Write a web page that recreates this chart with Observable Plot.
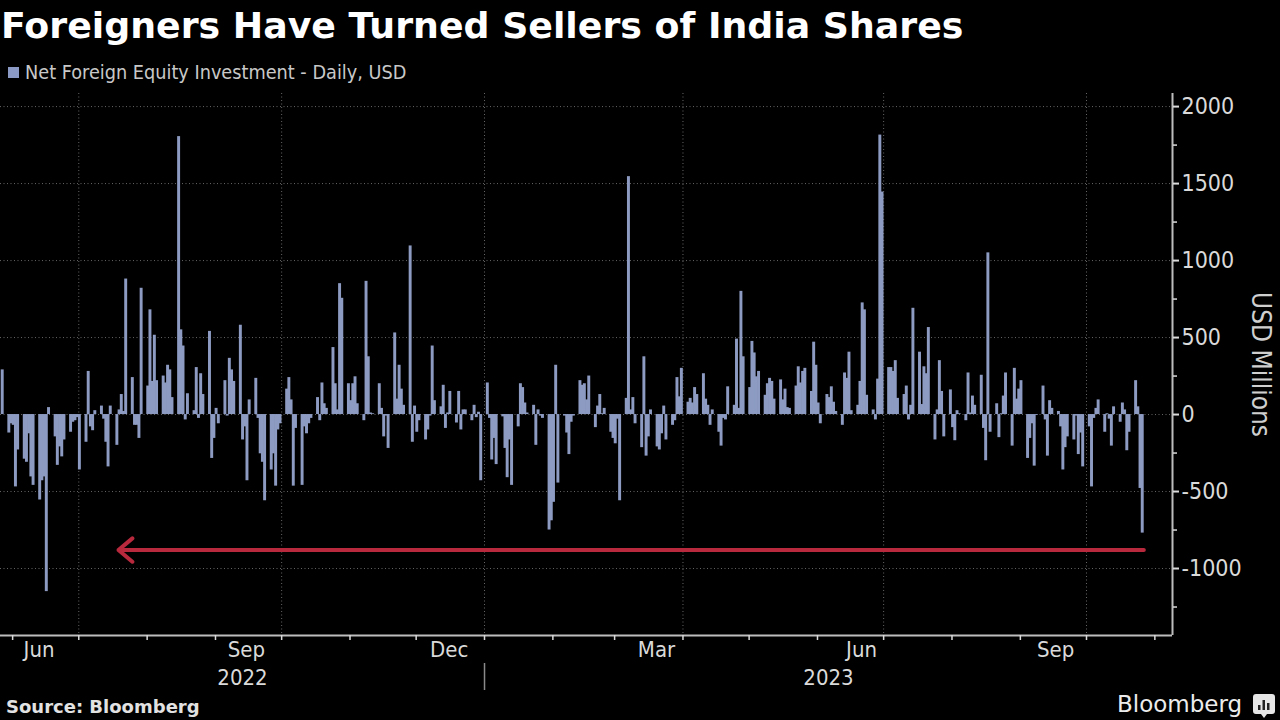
<!DOCTYPE html>
<html>
<head>
<meta charset="utf-8">
<script src="https://cdn.jsdelivr.net/npm/d3@7"></script>
<script src="https://cdn.jsdelivr.net/npm/@observablehq/plot@0.6"></script>
<style>
  html, body { margin: 0; padding: 0; background: #000; }
  #wrap { position: relative; width: 1280px; height: 720px; background: #000; overflow: hidden; }
  #title { position: absolute; left: 1px; top: 8px; font: bold 36.3px "DejaVu Sans", sans-serif; color: #fff; line-height: 36.3px; white-space: nowrap; }
  #legend { position: absolute; left: 8px; top: 63px; font-family: "DejaVu Sans Condensed", "DejaVu Sans", sans-serif; font-stretch: condensed; font-size: 19.7px; color: #c8c8c8; line-height: 19.7px; display: flex; align-items: center; white-space: nowrap; }
  #legend .sw { width: 11px; height: 11px; background: #8a9ac4; margin-right: 6px; }
  #chart { position: absolute; left: 0; top: 90px; }
  #source { position: absolute; left: 6px; top: 698px; font: bold 18px "DejaVu Sans", sans-serif; color: #e2e2e2; line-height: 18px; white-space: nowrap; }
  #brand { position: absolute; left: 1117px; top: 693px; font-family: "DejaVu Sans", sans-serif; font-size: 23px; color: #ececec; line-height: 23px; white-space: nowrap; }
  #icon { position: absolute; left: 1253px; top: 694px; }
</style>
</head>
<body>
<div id="wrap">
  <div id="title">Foreigners Have Turned Sellers of India Shares</div>
  <div id="legend"><span class="sw"></span><span>Net Foreign Equity Investment - Daily, USD</span></div>
  <div id="chart"></div>
  <div id="source">Source: Bloomberg</div>
  <div id="brand">Bloomberg</div>
  <svg id="icon" width="22" height="24" viewBox="0 0 22 24">
    <path d="M3 0h16a3 3 0 0 1 3 3v14a3 3 0 0 1-3 3h-5l-3 4-3-4H3a3 3 0 0 1-3-3V3a3 3 0 0 1 3-3z" fill="#e6e6e6"/>
    <rect x="5" y="11" width="2.5" height="5" fill="#222"/>
    <rect x="9.5" y="6" width="2.5" height="10" fill="#222"/>
    <rect x="14" y="9" width="2.5" height="7" fill="#222"/>
  </svg>
</div>
<script>
// ---- Data: net foreign equity investment, daily, USD millions ----
const firstDay = "2022-05-27";
const lastDay = "2023-10-26";

const flows2022Q2 = [290, -120, -60, -70, -470, -230, -290, -310, -125, -405, -460, -555, -430, -405, -1150, 45, -145, -330, -210, -275, -165, -115, -50, -40, -20];

const flows2022Q3 = [-360, -180, 280, -80, -105, 25, 55, -30, -180, -340,
  55, -200, 30, 130, 20, 880, 240, -70, -70, -155,
  820, 185, 680, 215, 515, 220, 250, 205, 320, 290,
  110, 1805, 550, 445, -35, 135, 25, 305, -25, 265,
  130, 540, -285, -155, 40, -60, 220, -10, 365, 290,
  215, 580, -165, -80, -430, 95, 235, -25, -255, -310,
  -560, -360, -255, -465, -100, -60];

const flows2022Q4 = [165, 240, 95, -465, -90, -460, -80, -125, -60, -25,
  110, -40, 205, 70, 40, 435, 200, 30, 850, 755,
  200, 90, 200, 245, 70, -40, 865, 375, 10, 5,
  200, 40, -145, -10, -220, 530, 100, 320, 165, 60,
  1095, -180, 55, -115, -40, -165, -100, -10, 445, 90,
  50, 190, -90, 10, 150, -55, 150, -100, 30, 30,
  -40, 60, -20, 15, -430];

const flows2023Q1 = [205, -25, -295, -155, -325, -15, -220, -410, -165, -460,
  -80, 200, 175, 75, 10, 60, -200, 30, -10, -25,
  -750, -690, -570, 320, -445, -10, -120, -260, -50, -10,
  220, 190, 200, 95, 250, -85, 55, 130, 5, 40,
  -115, -155, -190, -30, -560, 105, 1545, 30, 110, -60,
  -215, 375, -270, -145, 30, -210, -230, -125, 55, -165,
  -70, -40, 240, 115, 300];

const flows2023Q2 = [80, 105, 75, 175, 130, 265, 100, 60, -70, 30,
  -115, -205, -25, -35, 180, 60, 490, 40, 800, 375,
  175, 475, 400, 245, 280, 125, 200, 235, 215, 100,
  225, 95, 165, 45, 40, 185, 310, 205, 280, 300,
  150, 470, 320, 75, -60, 130, 110, 180, 80, 20,
  -70, 270, 235, 405, 25, 60, 215, 725, 680, 125,
  30, -35, 230, 1815, 1445];

const flows2023Q3 = [305, 305, 280, 350, 105, 130, 185, -35, 60, 690,
  405, 65, 310, 265, 565, -165, 30, 350, 150, -145,
  160, -85, -170, 25, 5, -40, 270, 10, 120, 60,
  255, -90, -300, 1050, -115, 70, -150, 5, 120, 270,
  -205, 300, 100, 165, 220, -285, -155, -60, -335, -5,
  185, -35, -270, 90, 40, 20, -80, -360, -215, -145,
  -165, -10, -260, -120, -340];

const flows2023Q4 = [-80, -470, -25, 40, 95, -115, 5, -30, -205, 50, -50, 75, 30, -235, -115, 220, 50, -480, -770];

// ---- Axis / annotation settings ----
const yMajorTicks = [-1000, -500, 0, 500, 1000, 1500, 2000];
const yMinorTicks = [-1250, -750, -250, 250, 750, 1250, 1750];
const yDomain = [-1435, 2085];
const xDomain = [new Date("2022-05-26T12:00Z"), new Date("2023-11-09T00:00Z")];
const gridDates = ["2022-07-01", "2022-10-01", "2023-01-01", "2023-04-01", "2023-07-01", "2023-10-01"].map(d => new Date(d));
const monthLabelDates = ["2022-06-13", "2022-09-15", "2022-12-16", "2023-03-20", "2023-06-21", "2023-09-17"].map(d => new Date(d));
const yearNames = ["2022", "2023"];
const yearBoundary = new Date("2023-01-01");
const arrowFrom = [new Date("2023-10-27")];
const arrowTo = [new Date("2022-07-19")];
const arrowLevel = [-880];

// ---- Build table ----
const values = [].concat(flows2022Q2, flows2022Q3, flows2022Q4, flows2023Q1, flows2023Q2, flows2023Q3, flows2023Q4);
const tradingDays = d3.utcDays(new Date(firstDay), d3.utcDay.offset(new Date(lastDay), 1)).filter(d => d.getUTCDay() !== 0 && d.getUTCDay() !== 6);
if (tradingDays.length !== values.length) console.warn("length mismatch", tradingDays.length, values.length);
const flows = values.map((v, i) => ({
  start: d3.utcHour.offset(tradingDays[i], -4),
  end: d3.utcHour.offset(tradingDays[i], 28),
  value: v
}));

const monthStarts = d3.utcMonths(new Date("2022-06-01"), xDomain[1]);
const yearLabels = yearNames.map(y => {
  const a = new Date(Math.max(+xDomain[0], Date.UTC(+y, 0, 1)));
  const b = new Date(Math.min(+xDomain[1], Date.UTC(+y + 1, 0, 1)));
  return {year: y, mid: new Date((+a + +b) / 2)};
});
const arrowData = arrowFrom.map((f, i) => ({from: f, to: arrowTo[i], level: arrowLevel[i]}));

const font = '"DejaVu Sans Condensed", "DejaVu Sans", sans-serif';
const gridStyle = {stroke: "#666", strokeDasharray: "1,2.5", strokeWidth: 1};

const chart = Plot.plot({
  width: 1280,
  height: 600,
  marginTop: 3,
  marginRight: 108,
  marginBottom: 55,
  marginLeft: 0,
  style: {background: "#000", color: "#dadada", fontFamily: font, fontStretch: "condensed", overflow: "visible"},
  x: {type: "utc", domain: xDomain, axis: null},
  y: {domain: yDomain, axis: null},
  marks: [
    Plot.ruleY(yMajorTicks, gridStyle),
    Plot.ruleX(gridDates, gridStyle),
    Plot.rectY(flows, {x1: "start", x2: "end", y: "value", fill: "#8d9bc2"}),
    Plot.arrow(arrowData, {x1: "from", x2: "to", y1: "level", y2: "level", stroke: "#b8293d", strokeWidth: 4, headLength: 6.8, headAngle: 80}),
    Plot.ruleX([xDomain[1]], {stroke: "#bdbdbd", strokeWidth: 2}),
    Plot.ruleY([yDomain[0]], {stroke: "#bdbdbd", strokeWidth: 2}),
    Plot.axisY({anchor: "right", ticks: yMajorTicks, tickSize: 6, tickPadding: 3, tickFormat: d => String(d), fontSize: 23, strokeWidth: 2}),
    Plot.axisY({anchor: "right", ticks: yMinorTicks, tickSize: 4, tickFormat: () => "", strokeWidth: 1.5}),
    Plot.axisX({ticks: monthStarts, tickSize: 5, tickFormat: () => "", strokeWidth: 1.5}),
    Plot.axisX({ticks: monthLabelDates, tickSize: 0, tickPadding: 6, tickFormat: d3.utcFormat("%b"), fontSize: 22}),
    Plot.text(yearLabels, {x: "mid", text: "year", frameAnchor: "bottom", dy: 49, fontSize: 22, fill: "#dadada"}),
    Plot.ruleX([yearBoundary], {stroke: "#8a8a8a", strokeWidth: 1.5, insetTop: 570, insetBottom: -55}),
    Plot.text(["USD Millions"], {text: d => d, frameAnchor: "right", textAnchor: "middle", rotate: 90, dx: 88, fontSize: 26, fill: "#cfcfcf"})
  ]
});
document.getElementById("chart").appendChild(chart);
</script>
</body>
</html>
